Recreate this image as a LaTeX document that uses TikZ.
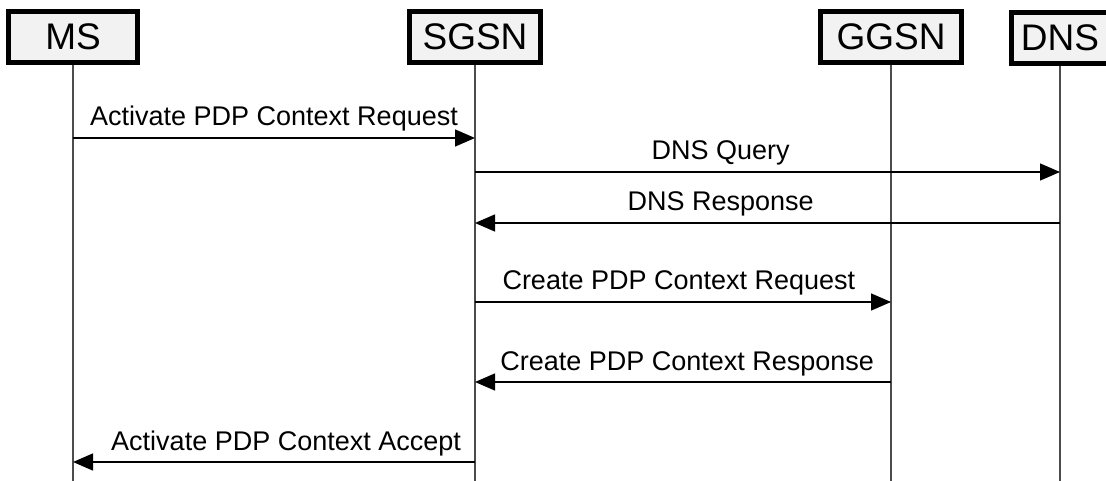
\documentclass[tikz,border=0pt]{standalone}
\usepackage{fontspec}
\setmainfont{Liberation Sans}
\usetikzlibrary{arrows.meta}
\tikzset{
	entity/.style={draw,line width=5pt,fill=black!5,inner sep=0pt,minimum height=51pt,font=\fontsize{37}{40}\selectfont},
	life/.style={line width=1.3pt,black!70},
	msg/.style={line width=1.4pt,-{Triangle[length=20pt,width=17pt]}},
	lbl/.style={anchor=base,yshift=12pt,inner sep=0pt,font=\fontsize{27}{30}\selectfont}
}
\begin{document}
\begin{tikzpicture}[x=1pt,y=-1pt]
	\useasboundingbox (0,0) rectangle (1106,481);
	\node [entity,minimum width=129pt] (ms) at (73,37) {MS};
	\node [entity,minimum width=131pt] (sgsn) at (475,37) {SGSN};
	\node [entity,minimum width=141pt] (ggsn) at (891,37) {GGSN};
	\node [entity,minimum width=98pt] (dns) at (1060,38) {DNS};
	\coordinate (bottom) at (0,481);
	\coordinate (m1) at (0,138); \coordinate (m2) at (0,172); \coordinate (m3) at (0,223);
	\coordinate (m4) at (0,302); \coordinate (m5) at (0,382); \coordinate (m6) at (0,462);
	\draw [life] (ms.south) -- (ms |- bottom) (sgsn.south) -- (sgsn |- bottom) (ggsn.south) -- (ggsn |- bottom) (dns.south) -- (dns |- bottom);
	\draw [msg] (ms |- m1) -- node [lbl] {Activate PDP Context Request} (sgsn |- m1);
	\draw [msg] (sgsn |- m2) -- node [lbl,pos=0.42] {DNS Query} (dns |- m2);
	\draw [msg] (dns |- m3) -- node [lbl,pos=0.58] {DNS Response} (sgsn |- m3);
	\draw [msg] (sgsn |- m4) -- node [lbl,pos=0.49] {Create PDP Context Request} (ggsn |- m4);
	\draw [msg] (ggsn |- m5) -- node [lbl,pos=0.49] {Create PDP Context Response} (sgsn |- m5);
	\draw [msg] (sgsn |- m6) -- node [lbl,pos=0.47] {Activate PDP Context Accept} (ms |- m6);
\end{tikzpicture}
\end{document}
